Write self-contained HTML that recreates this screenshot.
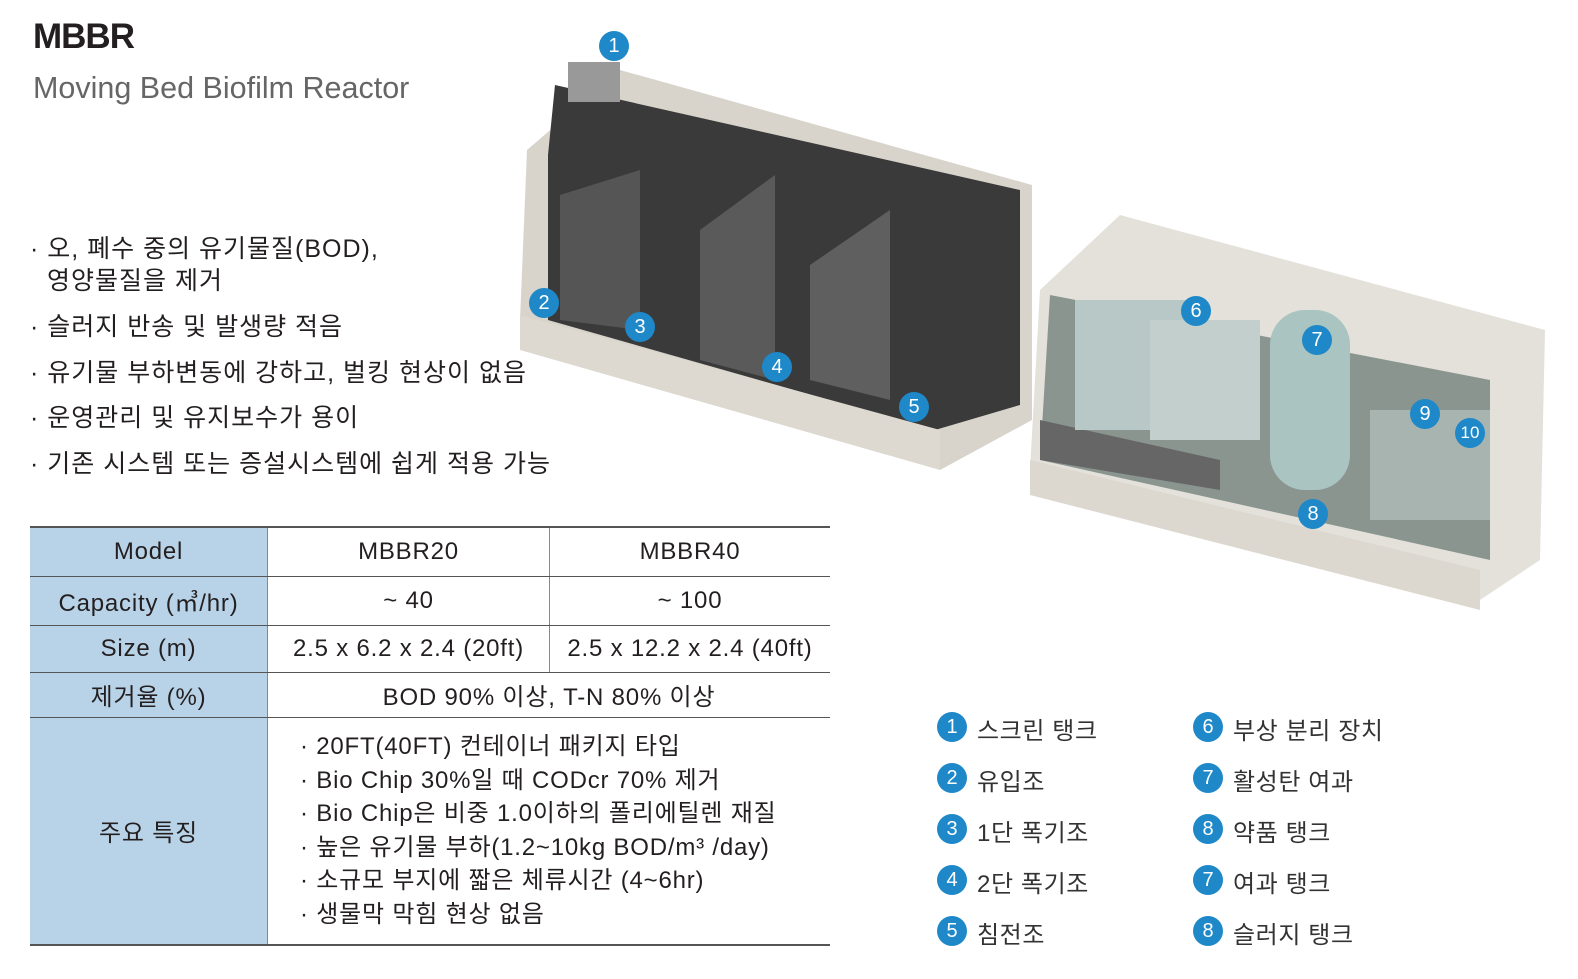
<!DOCTYPE html>
<html><head><meta charset="utf-8"><style>
body{margin:0;width:1578px;height:979px;background:#fff;position:relative;overflow:hidden;font-family:"Liberation Sans","Noto Sans CJK KR",sans-serif;color:#231f20}
.a{position:absolute;white-space:nowrap}
.t{font-size:25px;letter-spacing:1px}
table{position:absolute;left:30px;top:526px;width:800px;border-collapse:collapse;font-family:"Liberation Sans","Noto Sans CJK KR",sans-serif;font-size:24px;letter-spacing:0.8px}
td{border-bottom:1px solid #555;text-align:center;padding:0}
td.h{background:#b8d3e7;width:237px;border-right:1px solid #888}
td.v{border-right:1px solid #888}
.n{position:absolute;width:30px;height:30px;border-radius:50%;background:#1e88c8;color:#fff;font-size:20px;text-align:center;line-height:30px}
.l{position:absolute;font-size:24px;color:#333;letter-spacing:0.6px}
</style></head><body>
<div class="a" style="left:33px;top:17px;font-size:35px;font-weight:bold;letter-spacing:-1px">MBBR</div>
<div class="a" style="left:33px;top:71px;font-size:30.5px;color:#666">Moving Bed Biofilm Reactor</div>
<div class="a t" style="left:30px;top:229px">· 오, 폐수 중의 유기물질(BOD),</div>
<div class="a t" style="left:47px;top:261px">영양물질을 제거</div>
<div class="a t" style="left:30px;top:307px">· 슬러지 반송 및 발생량 적음</div>
<div class="a t" style="left:30px;top:353px">· 유기물 부하변동에 강하고, 벌킹 현상이 없음</div>
<div class="a t" style="left:30px;top:398px">· 운영관리 및 유지보수가 용이</div>
<div class="a t" style="left:30px;top:444px">· 기존 시스템 또는 증설시스템에 쉽게 적용 가능</div>
<table style="border-top:2px solid #555;border-bottom:2px solid #555">
<tr style="height:49px"><td class="h">Model</td><td class="v" style="width:281px">MBBR20</td><td>MBBR40</td></tr>
<tr style="height:49px"><td class="h">Capacity (㎥/hr)</td><td class="v">~ 40</td><td>~ 100</td></tr>
<tr style="height:47px"><td class="h">Size (m)</td><td class="v">2.5 x 6.2 x 2.4 (20ft)</td><td>2.5 x 12.2 x 2.4 (40ft)</td></tr>
<tr style="height:45px"><td class="h">제거율 (%)</td><td colspan="2">BOD 90% 이상, T-N 80% 이상</td></tr>
<tr style="height:228px"><td class="h" style="border-bottom:none">주요 특징</td><td colspan="2" style="text-align:left;padding-left:32px;line-height:33.5px;border-bottom:none">· 20FT(40FT) 컨테이너 패키지 타입<br>· Bio Chip 30%일 때 CODcr 70% 제거<br>· Bio Chip은 비중 1.0이하의 폴리에틸렌 재질<br>· 높은 유기물 부하(1.2~10kg BOD/m³ /day)<br>· 소규모 부지에 짧은 체류시간 (4~6hr)<br>· 생물막 막힘 현상 없음</td></tr>
</table>
<svg class="a" style="left:0;top:0" width="1578" height="979">
<polygon points="527,150 620,70 1032,185 1032,420 940,470 520,320" fill="#d8d4cc"/>
<polygon points="555,85 1020,190 1020,405 935,430 548,320 548,155" fill="#3a3a3a"/>
<polygon points="560,195 640,170 640,330 560,320" fill="#555"/>
<polygon points="700,230 775,175 775,380 700,360" fill="#5a5a5a"/>
<polygon points="810,265 890,210 890,400 810,380" fill="#5f5f5f"/>
<polygon points="520,315 940,430 940,470 520,350" fill="#ddd9d0"/>
<rect x="568" y="62" width="52" height="40" fill="#999"/>
<polygon points="1040,290 1120,215 1545,330 1540,560 1480,600 1030,470" fill="#e3e1da"/>
<polygon points="1050,295 1490,380 1490,560 1040,460" fill="#8b9590"/>
<polygon points="1040,420 1220,460 1220,490 1040,460" fill="#666"/>
<rect x="1075" y="300" width="110" height="130" fill="#b8c8c6"/>
<rect x="1150" y="320" width="110" height="120" fill="#c2cfcd"/>
<rect x="1270" y="310" width="80" height="180" rx="35" fill="#a9c4c1"/>
<rect x="1370" y="410" width="120" height="110" fill="#a8b4b0"/>
<polygon points="1030,460 1480,570 1480,610 1030,495" fill="#dcd8d0"/>
</svg>
<div class="n" style="left:599px;top:31px">1</div>
<div class="n" style="left:529px;top:288px">2</div>
<div class="n" style="left:625px;top:312px">3</div>
<div class="n" style="left:762px;top:352px">4</div>
<div class="n" style="left:899px;top:392px">5</div>
<div class="n" style="left:1181px;top:296px">6</div>
<div class="n" style="left:1302px;top:325px">7</div>
<div class="n" style="left:1298px;top:499px">8</div>
<div class="n" style="left:1410px;top:399px">9</div>
<div class="n" style="left:1455px;top:418px;font-size:17px">10</div>
<div class="n" style="left:937px;top:712px">1</div><div class="l" style="left:977px;top:711px">스크린 탱크</div>
<div class="n" style="left:937px;top:763px">2</div><div class="l" style="left:977px;top:762px">유입조</div>
<div class="n" style="left:937px;top:814px">3</div><div class="l" style="left:977px;top:813px">1단 폭기조</div>
<div class="n" style="left:937px;top:865px">4</div><div class="l" style="left:977px;top:864px">2단 폭기조</div>
<div class="n" style="left:937px;top:916px">5</div><div class="l" style="left:977px;top:915px">침전조</div>
<div class="n" style="left:1193px;top:712px">6</div><div class="l" style="left:1233px;top:711px">부상 분리 장치</div>
<div class="n" style="left:1193px;top:763px">7</div><div class="l" style="left:1233px;top:762px">활성탄 여과</div>
<div class="n" style="left:1193px;top:814px">8</div><div class="l" style="left:1233px;top:813px">약품 탱크</div>
<div class="n" style="left:1193px;top:865px">7</div><div class="l" style="left:1233px;top:864px">여과 탱크</div>
<div class="n" style="left:1193px;top:916px">8</div><div class="l" style="left:1233px;top:915px">슬러지 탱크</div>
</body></html>
